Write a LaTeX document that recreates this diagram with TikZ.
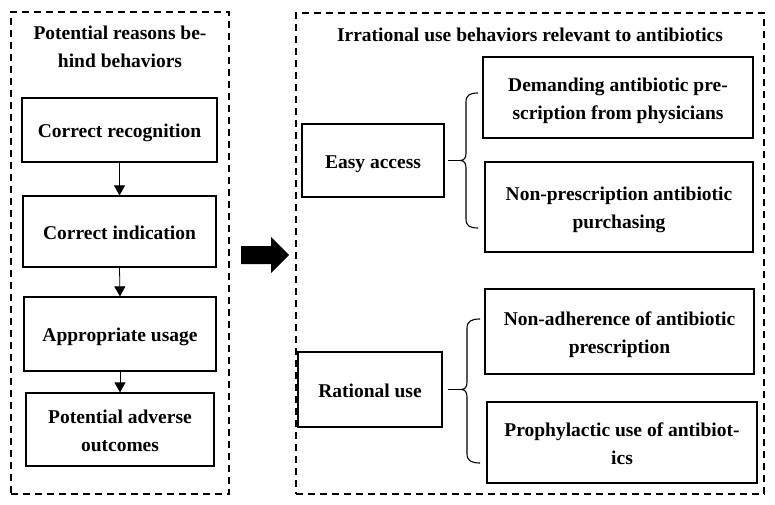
\documentclass[tikz,border=0pt]{standalone}
\usepackage{fontspec}
\setmainfont{Liberation Serif}
\usetikzlibrary{arrows.meta}
\begin{document}
\begin{tikzpicture}[x=1pt,y=-1pt,
  txt/.style={font=\fontsize{19.5}{28}\selectfont\bfseries, align=center, inner sep=0pt},
  box/.style={txt, draw, line width=1.2pt, minimum width=#1},
  one/.style={text height=20pt, text depth=4.5pt},
  two/.style={text height=48pt, text depth=4.5pt},
  panel/.style={draw, line width=1.1pt, dash pattern=on 7pt off 5pt},
  flow/.style={line width=0.8pt, -{Triangle[width=11pt,length=10pt]}},
  tick/.style={line width=1.1pt},
  bracel/.style={line width=1.1pt}]
\useasboundingbox (0,0) rectangle (775,505);
% panels
\node[panel, minimum width=218pt, minimum height=482pt, inner sep=0pt] (lp) at (120,253) {};
\node[panel, minimum width=468pt, minimum height=481pt, inner sep=0pt] (rp) at (530,253.5) {};
% titles
\node[txt, anchor=base] (lt) at (120,68) {Potential reasons be-\\hind behaviors};
\node[txt, anchor=base] (rt) at (530,42) {Irrational use behaviors relevant to antibiotics};
% left column
\node[box=195pt, one, minimum height=64pt] (rec) at (119.5,130) {Correct recognition};
\node[box=193pt, one, minimum height=71pt] (ind) at (119.5,231.5) {Correct indication};
\node[box=192pt, one, minimum height=74pt] (app) at (120,334) {Appropriate usage};
\node[box=188pt, two, minimum height=73pt] (adv) at (120,429.5) {Potential adverse\\outcomes};
\draw[flow] (rec.south) -- (ind.north);
\draw[flow] (ind.south) -- (app.north);
\draw[flow] (app.south) -- (adv.north);
% big arrow
\fill[black] (241,246) -- (271,246) -- (271,237) -- (289,255) -- (271,273) -- (271,264) -- (241,264) -- cycle;
% right panel
\node[box=142pt, one, minimum height=73pt] (easy) at (373,160.5) {Easy access};
\node[box=144pt, one, minimum height=75pt] (rat) at (370,389.5) {Rational use};
\node[box=270pt, two, minimum height=81pt] (dem) at (618,97.5) {Demanding antibiotic pre-\\scription from physicians};
\node[box=268pt, two, minimum height=90pt] (nonp) at (619,207) {Non-prescription antibiotic\\purchasing};
\node[box=269pt, two, minimum height=85pt] (nonad) at (619.5,331.5) {Non-adherence of antibiotic\\prescription};
\node[box=270pt, two, minimum height=81pt] (pro) at (622,442.5) {Prophylactic use of antibiot-\\ics};
% braces
\coordinate (eb) at (460,160.5);
\draw[bracel] (478,93) .. controls (470,93) and (466,95) .. (466,102) -- (466,153)
  .. controls (466,158) and (464,160.5) .. (eb)
  .. controls (464,160.5) and (466,163) .. (466,168) -- (466,219)
  .. controls (466,226) and (470,228) .. (478,228);
\draw[tick, shorten <=3pt] (easy.east) -- (eb);
\coordinate (rb) at (461,389.5);
\draw[bracel] (480,319) .. controls (472,319) and (467,321) .. (467,328) -- (467,382)
  .. controls (467,387) and (465,389.5) .. (rb)
  .. controls (465,389.5) and (467,392) .. (467,397) -- (467,454)
  .. controls (467,461) and (472,463) .. (480,463);
\draw[tick, shorten <=5pt] (rat.east) -- (rb);
\end{tikzpicture}
\end{document}
